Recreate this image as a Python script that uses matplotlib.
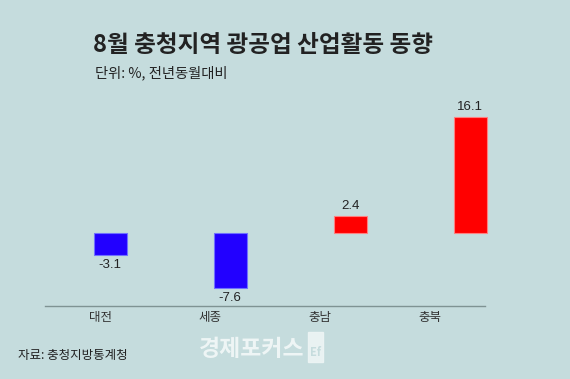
import matplotlib
matplotlib.use("Agg")
import matplotlib.pyplot as plt
from matplotlib.patches import Rectangle

plt.rcParams['font.family'] = ['Noto Sans CJK KR', 'DejaVu Sans']

# data
regions = ['대전', '세종', '충남', '충북']
values = [-3.1, -7.6, 2.4, 16.1]
title = '8월 충청지역 광공업 산업활동 동향'
subtitle = '단위: %, 전년동월대비'
source = '자료: 충청지방통계청'

bg = '#c5dcdd'
W, H = 570, 379

def fx(px):
    return px / W

def fy(py):
    return 1 - py / H

fig = plt.figure(figsize=(W / 100, H / 100), dpi=100, facecolor=bg)

# bars
ax = fig.add_axes([fx(50), fy(300), fx(480), (300 - 100) / H])
ax.set_facecolor('none')
colors = ['#2200ff' if v < 0 else '#ff0000' for v in values]
edges = ['#7070ff' if v < 0 else '#ff8080' for v in values]
bars = ax.bar(range(len(values)), values, width=0.275, color=colors,
              edgecolor=edges, linewidth=0.8)
ax.bar_label(bars, labels=[f'{v:.1f}' for v in values], padding=3,
             fontsize=9.5, color='#222222', family=['Liberation Sans', 'DejaVu Sans'])
ax.set_xlim(-0.5, 3.5)
ax.set_ylim(-(300 - 233) / 7.2, (233 - 100) / 7.2)
ax.axis('off')

# category axis (baseline + labels)
ax2 = fig.add_axes([fx(45), fy(306), fx(440), 0.001])
ax2.set_facecolor('none')
ax2.set_xlim(-0.5, 3.5)
ax2.set_xticks(range(len(regions)))
ax2.set_xticklabels(regions, fontsize=9, color='#333333')
ax2.tick_params(axis='x', length=0, pad=3.5)
ax2.set_yticks([])
for s in ['top', 'left', 'right']:
    ax2.spines[s].set_visible(False)
ax2.spines['bottom'].set_color('#7f9393')
ax2.spines['bottom'].set_linewidth(1)

# texts
fig.text(fx(93), fy(45), title, fontsize=17, fontweight='bold',
         color='#222222', va='center', ha='left')
fig.text(fx(95), fy(73), subtitle, fontsize=10.3, color='#222222',
         va='center', ha='left')
fig.text(fx(18), fy(355), source, fontsize=9, color='#222222',
         va='center', ha='left')

# watermark
fig.text(fx(199), fy(350), '경제포커스', fontsize=16.5, fontweight='bold',
         color='#eef5f5', va='center', ha='left')
fig.patches.append(Rectangle((fx(308), fy(362)), fx(15), (362 - 332) / H,
                             transform=fig.transFigure, color='#eef5f5', alpha=0.9))
fig.text(fx(315.5), fy(352), 'Ef', fontsize=8, fontweight='bold',
         color=bg, va='center', ha='center')

fig.savefig('out.png', dpi=100, facecolor=bg)
